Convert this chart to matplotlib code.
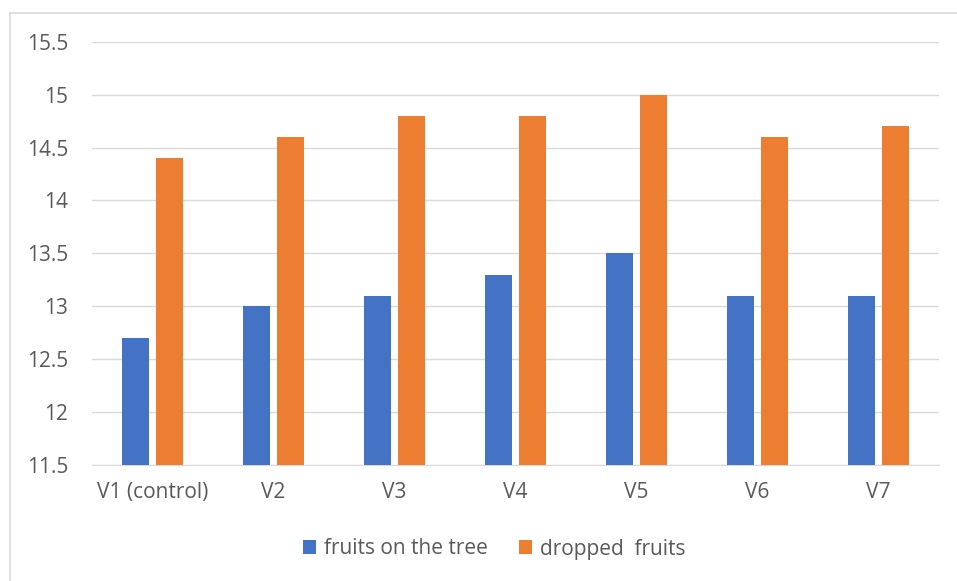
import numpy as np
import matplotlib.pyplot as plt
from matplotlib.lines import Line2D

categories = ["V1 (control)", "V2", "V3", "V4", "V5", "V6", "V7"]
on_tree = [12.7, 13.0, 13.1, 13.3, 13.5, 13.1, 13.1]
dropped = [14.4, 14.6, 14.8, 14.8, 15.0, 14.6, 14.7]
yticks = [11.5, 12, 12.5, 13, 13.5, 14, 14.5, 15, 15.5]
ytick_labels = ["11.5", "12", "12.5", "13", "13.5", "14", "14.5", "15", "15.5"]

plt.rcParams['font.family'] = ['Open Sans', 'DejaVu Sans']

W, H = 957, 581
fig = plt.figure(figsize=(W / 100, H / 100), dpi=100)
ax = fig.add_axes([92 / W, 1 - 465 / H, 847 / W, (465 - 41.7) / H])

x = np.arange(len(categories))
w = 0.223
gap = 0.066
ax.bar(x - (w + gap) / 2, np.array(on_tree) - 11.5, w, bottom=11.5,
       color="#4472C4", label="fruits on the tree", zorder=3)
ax.bar(x + (w + gap) / 2, np.array(dropped) - 11.5, w, bottom=11.5,
       color="#ED7D31", label="dropped  fruits", zorder=3)

ax.set_xlim(-0.5, len(categories) - 0.5)
ax.set_ylim(11.5, 15.5)
ax.set_yticks(yticks)
ax.set_yticklabels(ytick_labels)
ax.set_xticks(x)
ax.set_xticklabels(categories)
ax.yaxis.grid(True, color="#D9D9D9", linewidth=1, zorder=0)
ax.tick_params(axis="both", length=0, labelsize=15, colors="#595959")
ax.tick_params(axis="x", pad=12)
ax.tick_params(axis="y", pad=17)
for s in ["top", "right", "left"]:
    ax.spines[s].set_visible(False)
ax.spines["bottom"].set_color("#D9D9D9")

leg = fig.legend(loc="center", bbox_to_anchor=(494 / W, 1 - 549 / H), ncol=2, frameon=False,
                 fontsize=15, handlelength=0.65, handleheight=0.65, columnspacing=1.5,
                 handletextpad=0.35)
for t in leg.get_texts():
    t.set_color("#595959")

# chart area border (only top and left visible in the reference)
fig.add_artist(Line2D([10 / W, 10 / W], [0, 1 - 12.5 / H], transform=fig.transFigure,
                      color="#D9D9D9", linewidth=1.2))
fig.add_artist(Line2D([10 / W, 1], [1 - 12.5 / H, 1 - 12.5 / H], transform=fig.transFigure,
                      color="#D9D9D9", linewidth=1.2))

fig.savefig("out.png", dpi=100)
